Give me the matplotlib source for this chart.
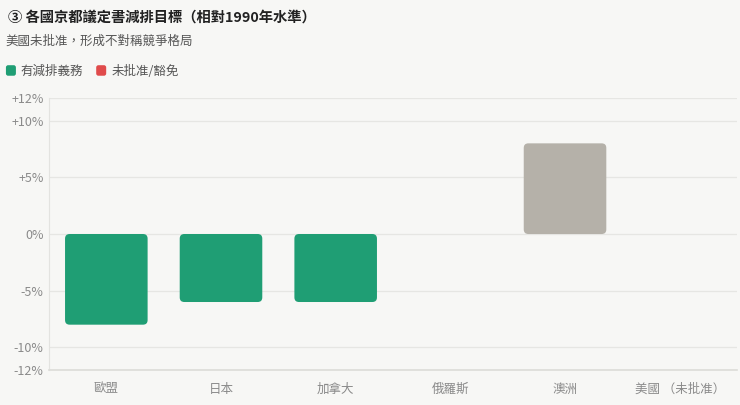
import matplotlib.pyplot as plt
from matplotlib.patches import FancyBboxPatch

plt.rcParams['font.family'] = ['Noto Sans CJK TC', 'DejaVu Sans']

countries = ['歐盟', '日本', '加拿大', '俄羅斯', '澳洲', '美國 （未批准）']
targets = [-8, -6, -6, 0, 8, 0]
colors = ['#1f9e74', '#1f9e74', '#1f9e74', '#1f9e74', '#b5b1a9', '#e04b4b']
yticks = [-12, -10, -5, 0, 5, 10, 12]
ytick_labels = ['-12%', '-10%', '-5%', '0%', '+5%', '+10%', '+12%']

bg = '#f7f7f5'
fig = plt.figure(figsize=(7.4, 4.05), dpi=100, facecolor=bg)
ax = fig.add_axes([0.0662, 0.0864, 0.9298, 0.6716], facecolor=bg)

bars = ax.bar(range(len(countries)), targets, width=0.72, color=colors)
ax.set_xlim(-0.5, len(countries) - 0.5)
ax.set_ylim(-12, 12)

# swap plain bars for rounded ones
for b in bars:
    x, y = b.get_x(), b.get_y()
    w, h = b.get_width(), b.get_height()
    b.set_visible(False)
    if h == 0:
        continue
    p = FancyBboxPatch((x, min(y, y + h)), w, abs(h),
                       boxstyle='round,pad=0,rounding_size=0.04',
                       mutation_aspect=10.1, fc=b.get_facecolor(), ec='none')
    ax.add_patch(p)

ax.set_yticks(yticks)
ax.set_yticklabels(ytick_labels)
ax.set_xticks(range(len(countries)))
ax.set_xticklabels(countries)
ax.tick_params(axis='both', length=0, colors='#8a8a8a', labelsize=9)
ax.tick_params(axis='x', pad=9)
ax.tick_params(axis='y', pad=4)
ax.grid(axis='y', color='#e6e6e3', linewidth=0.9)
ax.set_axisbelow(True)
for s in ['top', 'right']:
    ax.spines[s].set_visible(False)
ax.spines['left'].set_color('#e3e3e0')
ax.spines['bottom'].set_color('#dcdcd8')
ax.spines['bottom'].set_linewidth(1.2)

fig.text(0.011, 0.957, '③ 各國京都議定書減排目標（相對1990年水準）', fontsize=10.3,
         fontweight='bold', color='#222222', va='center')
fig.text(0.008, 0.898, '美國未批准，形成不對稱競爭格局', fontsize=9,
         color='#555555', va='center')

# legend
for lx, tx, c, lab in [(0.008, 0.028, '#1f9e74', '有減排義務'),
                       (0.13, 0.151, '#e04b4b', '未批准/豁免')]:
    fig.patches.append(FancyBboxPatch((lx, 0.813), 0.0135, 0.026, transform=fig.transFigure,
                                      boxstyle='round,pad=0,rounding_size=0.003',
                                      mutation_aspect=1.83, fc=c, ec='none'))
    fig.text(tx, 0.824, lab, fontsize=9, color='#555555', va='center')

fig.savefig('out.png', dpi=100, facecolor=bg)
